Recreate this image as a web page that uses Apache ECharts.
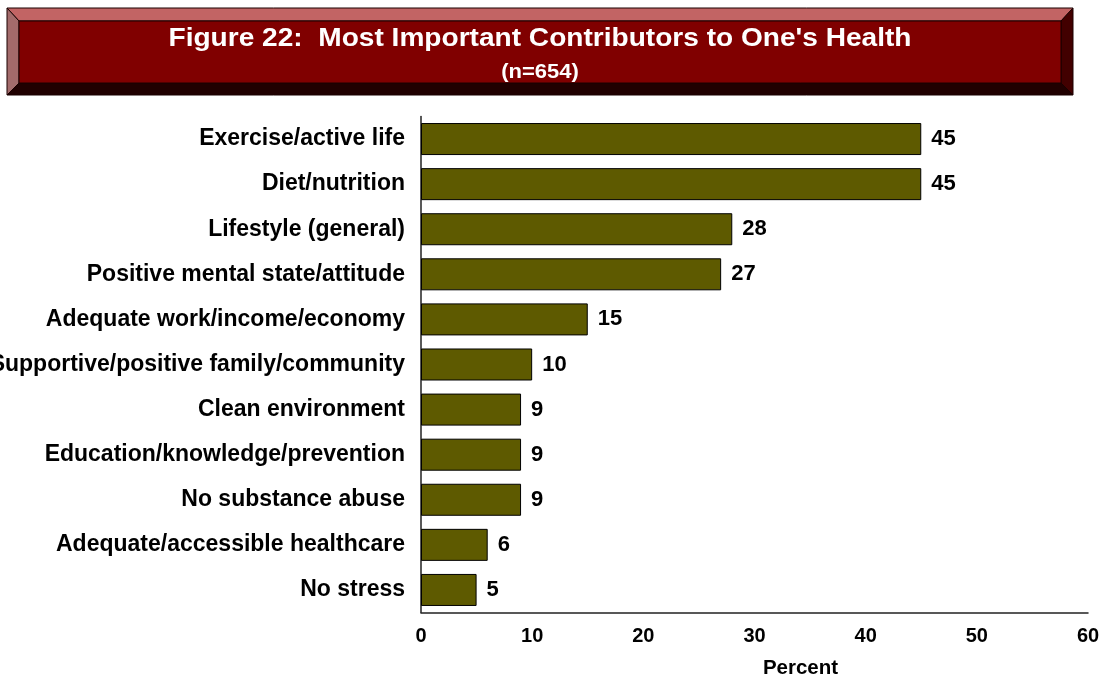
<!DOCTYPE html>
<html>
<head>
<meta charset="utf-8">
<title>Figure 22: Most Important Contributors to One's Health</title>
<script src="https://cdn.jsdelivr.net/npm/echarts@6/dist/echarts.min.js"></script>
<style>
  html, body { margin: 0; padding: 0; background: #ffffff; }
  #chart { width: 1101px; height: 679px; }
</style>
</head>
<body>
<div id="chart"></div>
<script>
// Survey responses (percent of respondents, n=654)
const categories = [
  'Exercise/active life',
  'Diet/nutrition',
  'Lifestyle (general)',
  'Positive mental state/attitude',
  'Adequate work/income/economy',
  'Supportive/positive family/community',
  'Clean environment',
  'Education/knowledge/prevention',
  'No substance abuse',
  'Adequate/accessible healthcare',
  'No stress'
];
const percents = [45, 45, 28, 27, 15, 10, 9, 9, 9, 6, 5];
const titleText = "Figure 22:  Most Important Contributors to One's Health";
const subtitleText = '(n=654)';
const axisName = 'Percent';

const FONT = "'Liberation Sans', Arial, Helvetica, sans-serif";

// Beveled banner geometry
const outer = { x1: 7, y1: 8, x2: 1073, y2: 95 };
const inner = { x1: 19, y1: 21, x2: 1061, y2: 83 };

function bevel(points, fill) {
  return {
    type: 'polygon',
    shape: { points: points },
    style: { fill: fill, stroke: '#1a0000', lineWidth: 1 },
    silent: true
  };
}

const banner = [
  bevel([[outer.x1, outer.y1], [outer.x2, outer.y1], [inner.x2, inner.y1], [inner.x1, inner.y1]], '#c26464'),
  bevel([[outer.x1, outer.y1], [inner.x1, inner.y1], [inner.x1, inner.y2], [outer.x1, outer.y2]], '#a36b6b'),
  bevel([[outer.x1, outer.y2], [inner.x1, inner.y2], [inner.x2, inner.y2], [outer.x2, outer.y2]], '#200000'),
  bevel([[outer.x2, outer.y1], [outer.x2, outer.y2], [inner.x2, inner.y2], [inner.x2, inner.y1]], '#420000'),
  {
    type: 'rect',
    shape: { x: inner.x1, y: inner.y1, width: inner.x2 - inner.x1, height: inner.y2 - inner.y1 },
    style: { fill: '#800000', stroke: '#1a0000', lineWidth: 1 },
    silent: true
  },
  {
    type: 'text',
    x: 540, y: 39,
    scaleX: 1.08,
    style: {
      text: titleText, fill: '#ffffff', font: 'bold 26px ' + FONT,
      align: 'center', verticalAlign: 'middle'
    },
    silent: true
  },
  {
    type: 'text',
    x: 540, y: 72,
    scaleX: 1.1,
    style: {
      text: subtitleText, fill: '#ffffff', font: 'bold 20px ' + FONT,
      align: 'center', verticalAlign: 'middle'
    },
    silent: true
  }
];

const chart = echarts.init(document.getElementById('chart'), null, { renderer: 'canvas' });

chart.setOption({
  backgroundColor: '#ffffff',
  animation: false,
  graphic: banner,
  grid: {
    left: 421, right: 13, top: 116.5, bottom: 66.5,
    containLabel: false,
    outerBoundsMode: 'none'
  },
  xAxis: {
    type: 'value',
    min: 0, max: 60, interval: 10,
    name: axisName,
    nameLocation: 'middle',
    nameGap: 45,
    nameTextStyle: { color: '#000', fontFamily: FONT, fontWeight: 'bold', fontSize: 20.5, padding: [0, 0, 0, 92] },
    axisLine: { show: true, lineStyle: { color: '#222', width: 1.5 } },
    axisTick: { show: false },
    splitLine: { show: false },
    axisLabel: { color: '#000', fontFamily: FONT, fontWeight: 'bold', fontSize: 20, margin: 14 }
  },
  yAxis: {
    type: 'category',
    data: categories,
    inverse: true,
    axisLine: { show: true, lineStyle: { color: '#222', width: 1.5 } },
    axisTick: { show: false },
    axisLabel: { color: '#000', fontFamily: FONT, fontWeight: 'bold', fontSize: 23, margin: 16 }
  },
  series: [{
    type: 'bar',
    data: percents,
    barCategoryGap: '29%',
    itemStyle: { color: '#5e5a00', borderColor: '#000', borderWidth: 1 },
    label: {
      show: true, position: 'right', distance: 10,
      color: '#000', fontFamily: FONT, fontWeight: 'bold', fontSize: 22
    }
  }]
});
</script>
</body>
</html>
